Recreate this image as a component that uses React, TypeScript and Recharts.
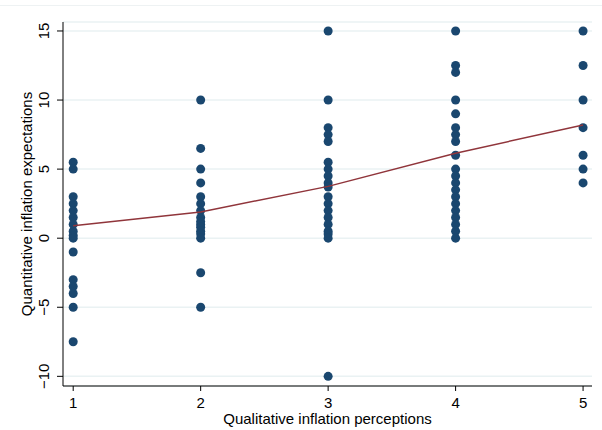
import React from 'react';
import { ScatterChart, Scatter, XAxis, YAxis, CartesianGrid } from 'recharts';

// observed expectations by perception category (1..5)
const cat1 = [5.5, 5, 3, 2.5, 2, 1.5, 1, 0.5, 0.2, 0, -1, -3, -3.5, -4, -5, -7.5];
const cat2 = [10, 6.5, 5, 4, 3, 2.5, 2, 1.5, 1.2, 1, 0.8, 0.5, 0.3, 0, -2.5, -5];
const cat3 = [15, 10, 8, 7.5, 7, 5.5, 5, 4.5, 4, 3.7, 3, 2.5, 2, 1.5, 1, 0.5, 0.3, 0, -10];
const cat4 = [15, 12.5, 12, 10, 9, 8, 7.5, 7, 6, 5, 4.5, 4, 3.5, 3, 2.5, 2, 1.5, 1, 0.5, 0];
const cat5 = [15, 12.5, 10, 8, 6, 5, 4];

// fitted line
const fitX = [1, 2, 3, 4, 5];
const fitY = [0.9, 1.9, 3.75, 6.15, 8.2];

const xTicks = [1, 2, 3, 4, 5];
const yTicks = [-10, -5, 0, 5, 10, 15];

const points = [cat1, cat2, cat3, cat4, cat5].flatMap((vals, i) =>
    vals.map((v) => ({ x: i + 1, y: v }))
);
const fit = fitX.map((x, i) => ({ x, y: fitY[i] }));

const FONT = '"Liberation Sans", Arial, sans-serif';

const YTick = (props: any) => {
    const { x, y, payload } = props;
    return (
        <text
            x={x - 6}
            y={y}
            transform={`rotate(-90, ${x - 6}, ${y})`}
            textAnchor="middle"
            fontSize={15}
            fontFamily={FONT}
            fill="#000"
        >
            {payload.value < 0 ? '\u2212' + Math.abs(payload.value) : payload.value}
        </text>
    );
};

const XTick = (props: any) => {
    const { x, y, payload } = props;
    return (
        <text x={x} y={y + 15} textAnchor="middle" fontSize={15} fontFamily={FONT} fill="#000">
            {payload.value}
        </text>
    );
};

export default function App() {
    return (
        <div style={{ position: 'absolute', left: 0, top: 0, width: 602, height: 430, background: '#fff' }}>
            <div style={{ position: 'absolute', left: 0, top: 5, width: 602, height: 1, background: '#eef2f3' }} />
            <ScatterChart
                width={602}
                height={430}
                margin={{ top: 22, right: 10, bottom: 0, left: 0 }}
            >
                <CartesianGrid horizontal vertical={false} stroke="#eaf2f3" strokeWidth={1.5} />
                <XAxis
                    type="number"
                    dataKey="x"
                    domain={[0.92, 5.07]}
                    ticks={xTicks}
                    height={44}
                    allowDataOverflow
                    stroke="#000"
                    tickSize={5}
                    tick={<XTick />}
                    label={{
                        value: 'Qualitative inflation perceptions',
                        position: 'insideBottom',
                        offset: 6,
                        fontSize: 15,
                        fontFamily: FONT,
                        fill: '#000'
                    }}
                />
                <YAxis
                    type="number"
                    dataKey="y"
                    domain={[-10.7, 15.65]}
                    ticks={yTicks}
                    width={63}
                    allowDataOverflow
                    stroke="#000"
                    tickSize={6}
                    tick={<YTick />}
                    label={{
                        value: 'Quantitative inflation expectations',
                        angle: -90,
                        position: 'insideLeft',
                        offset: 27,
                        style: { textAnchor: 'middle' },
                        fontSize: 15,
                        fontFamily: FONT,
                        fill: '#000'
                    }}
                />
                <Scatter
                    data={points}
                    fill="#1a476f"
                    isAnimationActive={false}
                    shape={(p: any) => <circle cx={p.cx} cy={p.cy} r={4.5} fill="#1a476f" />}
                />
                <Scatter
                    data={fit}
                    line={{ stroke: '#90353b', strokeWidth: 1.5 }}
                    isAnimationActive={false}
                    shape={() => <g />}
                />
            </ScatterChart>
        </div>
    );
}
